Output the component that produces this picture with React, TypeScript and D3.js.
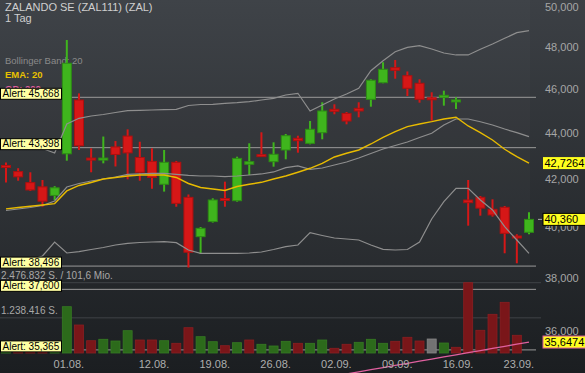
import { useEffect, useRef } from 'react';
import * as d3 from 'd3';

// trading days shown on the chart
const dates = [
  '25.07.', '26.07.', '29.07.', '30.07.', '31.07.',
  '01.08.', '02.08.', '05.08.', '06.08.', '07.08.', '08.08.', '09.08.',
  '12.08.', '13.08.', '14.08.', '15.08.', '16.08.',
  '19.08.', '20.08.', '21.08.', '22.08.', '23.08.',
  '26.08.', '27.08.', '28.08.', '29.08.', '30.08.',
  '02.09.', '03.09.', '04.09.', '05.09.', '06.09.',
  '09.09.', '10.09.', '11.09.', '12.09.', '13.09.',
  '16.09.', '17.09.', '18.09.', '19.09.', '20.09.',
  '23.09.', '24.09.'
];

const open = [42.580, 42.360, 41.890, 41.710, 41.350, 43.130, 45.543, 42.900, 42.830, 43.430, 43.910, 42.970, 42.800, 41.820, 42.760, 41.270, 39.660, 40.270, 41.180, 41.130, 42.675, 43.050, 42.787, 43.296, 43.812, 43.589, 44.061, 45.071, 44.930, 45.162, 45.575, 46.349, 47.057, 46.676, 46.321, 45.600, 45.668, 45.470, 41.159, 41.272, 40.774, 40.856, 39.646, 39.836];
const high = [42.750, 42.505, 42.330, 42.000, 41.740, 48.394, 45.850, 43.370, 43.890, 43.690, 44.210, 43.660, 43.370, 43.296, 42.820, 41.390, 40.050, 41.230, 41.930, 43.004, 43.591, 44.079, 43.634, 44.003, 43.927, 44.585, 45.438, 45.346, 44.994, 45.438, 46.508, 47.317, 47.427, 46.878, 46.508, 45.900, 45.975, 45.668, 42.001, 41.327, 41.188, 40.910, 39.756, 40.650];
const low = [41.890, 41.970, 41.540, 40.880, 41.160, 42.830, 43.296, 42.330, 42.715, 42.580, 42.030, 41.970, 41.630, 41.510, 40.880, 38.440, 38.970, 40.230, 40.880, 41.088, 42.215, 42.990, 42.571, 42.890, 43.178, 43.545, 43.767, 44.889, 44.436, 44.752, 45.236, 46.321, 46.536, 45.727, 45.420, 44.600, 45.283, 45.131, 40.103, 40.511, 40.472, 38.998, 38.605, 39.756];
const close = [42.510, 42.135, 41.580, 41.110, 41.670, 47.270, 43.480, 42.830, 42.900, 43.100, 43.170, 42.330, 42.110, 42.760, 41.020, 39.040, 39.995, 41.159, 41.130, 42.930, 42.787, 43.020, 43.109, 43.927, 43.705, 44.213, 45.040, 45.025, 44.585, 45.040, 46.461, 46.981, 46.933, 46.085, 45.575, 45.575, 45.714, 45.500, 41.048, 40.822, 40.541, 39.795, 39.606, 40.360];
const volume = [300000, 280000, 260000, 250000, 270000, 1631000, 986000, 433000, 483000, 423000, 786000, 458000, 458000, 433000, 342000, 891000, 574000, 398000, 257000, 363000, 458000, 307000, 247000, 412000, 342000, 342000, 458000, 166000, 307000, 377000, 483000, 342000, 412000, 553000, 423000, 493000, 352000, 201000, 2476832, 800000, 1363000, 1786000, 624000, 0];

const ema20 = [40.790, 40.850, 40.900, 40.950, 41.010, 41.540, 41.770, 41.895, 42.044, 42.108, 42.172, 42.215, 42.215, 42.215, 42.108, 41.853, 41.684, 41.620, 41.557, 41.726, 41.820, 41.903, 42.044, 42.172, 42.331, 42.502, 42.709, 42.992, 43.152, 43.296, 43.560, 43.856, 44.105, 44.330, 44.451, 44.555, 44.676, 44.753, 44.361, 44.061, 43.736, 43.327, 43.004, 42.7264];
const bbUpper = [43.428, 43.400, 43.380, 43.362, 43.165, 44.451, 44.707, 44.812, 44.880, 44.971, 45.053, 45.071, 45.085, 45.099, 45.117, 45.291, 45.337, 45.346, 45.392, 45.420, 45.466, 45.543, 45.622, 45.775, 45.854, 45.040, 45.314, 45.590, 45.821, 46.087, 46.914, 47.393, 47.825, 48.038, 48.116, 47.956, 47.763, 47.667, 47.667, 47.941, 48.199, 48.478, 48.754, 48.853];
const bbMiddle = [40.724, 40.786, 40.848, 40.931, 41.118, 41.705, 41.853, 41.959, 42.044, 42.130, 42.237, 42.258, 42.280, 42.287, 42.237, 42.194, 42.172, 42.172, 42.142, 42.172, 42.215, 42.258, 42.344, 42.528, 42.601, 42.459, 42.515, 42.645, 42.774, 42.947, 43.143, 43.340, 43.494, 43.648, 43.847, 44.034, 44.406, 44.676, 44.676, 44.553, 44.406, 44.226, 44.061, 43.883];
const bbLower = [38.656, 38.695, 38.734, 38.891, 39.446, 39.010, 39.061, 39.148, 39.227, 39.327, 39.394, 39.426, 39.446, 39.458, 39.418, 39.128, 38.998, 38.998, 38.998, 38.998, 39.010, 39.049, 39.148, 39.259, 39.327, 39.821, 39.708, 39.606, 39.566, 39.526, 39.327, 39.156, 39.128, 39.148, 39.446, 40.376, 41.088, 41.650, 41.650, 41.159, 40.745, 40.063, 39.526, 38.998];
// GD 200 only reaches the visible area at the far right
const gd200: (number | null)[] = [
  null, null, null, null, null, null, null, null, null, null, null, null, null, null,
  null, null, null, null, null, null, null, null, null, null, null, null, null,
  34.440, 34.514, 34.589, 34.663, 34.738, 34.813, 34.888, 34.963, 35.038, 35.114,
  35.189, 35.265, 35.341, 35.417, 35.494, 35.570, 35.6474
];

const priceTicks = [50, 48, 46, 44, 42, 40, 38, 36];
const dateTicks = ['01.08.', '12.08.', '19.08.', '26.08.', '02.09.', '09.09.', '16.09.', '23.09.'];
const alerts = [45.668, 43.398, 38.496, 37.600, 35.365];
const volumeMax = 2476832;

const de = d3.formatLocale({ decimal: ',', thousands: '.', grouping: [3], currency: ['', ''] });

export default function App() {
  const ref = useRef<SVGSVGElement>(null);

  useEffect(() => {
    if (!ref.current) return;
    const svg = d3.select(ref.current);
    svg.selectAll('*').remove();

    const W = 585, H = 373;
    const font = 'Arial, "Liberation Sans", sans-serif';

    const x = d3.scalePoint<string>().domain(dates).range([6, 529]);
    const y = d3.scaleLog().domain([35.365, 45.668]).range([349.9, 97.3]);
    const yv = d3.scaleLinear().domain([0, volumeMax]).range([353, 282.7]);

    // background
    const defs = svg.append('defs');
    const grad = defs.append('linearGradient').attr('id', 'bg').attr('x1', 0).attr('y1', 0).attr('x2', 0).attr('y2', 1);
    grad.append('stop').attr('offset', '0%').attr('stop-color', '#3c4045');
    grad.append('stop').attr('offset', '100%').attr('stop-color', '#1b1e21');
    svg.append('rect').attr('width', W).attr('height', H).attr('fill', 'url(#bg)');
    svg.append('rect').attr('width', 530).attr('height', 280).attr('fill', '#ffffff').attr('opacity', 0.02);

    // title + legend
    svg.append('text').attr('x', 5).attr('y', 10.5).attr('font-size', 11).attr('fill', '#cfcfcf')
      .attr('font-family', font).text('ZALANDO SE (ZAL111) (ZAL)');
    svg.append('text').attr('x', 5).attr('y', 22).attr('font-size', 11).attr('fill', '#cfcfcf')
      .attr('font-family', font).text('1 Tag');
    svg.append('text').attr('x', 5).attr('y', 63.5).attr('font-size', 9.5).attr('fill', '#8a8a8a')
      .attr('font-family', font).text('Bollinger Band: 20');
    svg.append('text').attr('x', 5).attr('y', 77.5).attr('font-size', 9.5).attr('font-weight', 'bold')
      .attr('fill', '#e8c100').attr('font-family', font).text('EMA: 20');
    svg.append('text').attr('x', 5).attr('y', 91.5).attr('font-size', 9.5).attr('font-weight', 'bold')
      .attr('fill', '#e0609f').attr('font-family', font).text('GD: 200');

    // volume grid
    [volumeMax, volumeMax / 2].forEach(v => {
      svg.append('line').attr('x1', 0).attr('x2', 541).attr('y1', yv(v)).attr('y2', yv(v))
        .attr('stroke', '#3f4347').attr('stroke-width', 1);
    });
    svg.append('text').attr('x', 1).attr('y', yv(volumeMax) - 3.5).attr('font-size', 10).attr('fill', '#a8a8a8')
      .attr('font-family', font).text(`${de.format(',d')(volumeMax)} S. / 101,6 Mio.`);
    svg.append('text').attr('x', 1).attr('y', yv(volumeMax / 2) - 3.5).attr('font-size', 10).attr('fill', '#a8a8a8')
      .attr('font-family', font).text(`${de.format(',d')(volumeMax / 2)} S.`);

    // alert lines
    alerts.forEach(a => {
      svg.append('line').attr('x1', 0).attr('x2', 536).attr('y1', y(a)).attr('y2', y(a))
        .attr('stroke', '#9a9a9a').attr('stroke-width', 1);
    });

    // volume bars
    const bw = 9;
    svg.selectAll('.vol')
      .data(dates)
      .enter()
      .append('rect')
      .attr('x', d => (x(d) as number) - bw / 2)
      .attr('y', (d, i) => yv(volume[i]))
      .attr('width', bw)
      .attr('height', (d, i) => 353 - yv(volume[i]))
      .attr('fill', (d, i) => i > 0 && close[i] === close[i - 1] ? '#727272' : (i === 0 || close[i] > close[i - 1]) ? '#2c6a1b' : '#7a1619')
      .attr('stroke', (d, i) => i > 0 && close[i] === close[i - 1] ? '#888888' : (i === 0 || close[i] > close[i - 1]) ? '#367b23' : '#8b1e21')
      .attr('stroke-width', 0.8);

    // candles
    const up = (i: number) => close[i] >= open[i];
    const g = svg.append('g');
    g.selectAll('.wick')
      .data(dates)
      .enter()
      .append('line')
      .attr('x1', d => x(d) as number)
      .attr('x2', d => x(d) as number)
      .attr('y1', (d, i) => y(high[i]))
      .attr('y2', (d, i) => y(low[i]))
      .attr('stroke', (d, i) => up(i) ? '#3fb51d' : '#d61717')
      .attr('stroke-width', 2);
    g.selectAll('.body')
      .data(dates)
      .enter()
      .append('rect')
      .attr('x', d => (x(d) as number) - 4.5)
      .attr('y', (d, i) => Math.min(y(open[i]), y(close[i])) - (Math.abs(y(open[i]) - y(close[i])) < 2 ? 1 : 0))
      .attr('width', 9)
      .attr('height', (d, i) => Math.max(2, Math.abs(y(open[i]) - y(close[i]))))
      .attr('fill', (d, i) => up(i) ? '#3fb51d' : '#d61717')
      .attr('stroke', (d, i) => up(i) ? '#2d8c14' : '#ad1010')
      .attr('stroke-width', 1);

    // indicator lines
    const line = d3.line<number | null>()
      .defined(v => v != null)
      .x((v, i) => x(dates[i]) as number)
      .y(v => y(v as number));

    [bbUpper, bbMiddle, bbLower].forEach(s => {
      svg.append('path').datum(s).attr('fill', 'none').attr('stroke', '#8e8e8e')
        .attr('stroke-width', 1.2).attr('d', line);
    });
    svg.append('path').datum(ema20).attr('fill', 'none').attr('stroke', '#e8bb00')
      .attr('stroke-width', 1.4).attr('d', line);
    svg.append('path').datum(gd200).attr('fill', 'none').attr('stroke', '#e0609f')
      .attr('stroke-width', 1.3).attr('d', line);

    // alert boxes
    alerts.forEach(a => {
      svg.append('rect').attr('x', 0.5).attr('y', y(a) - 9).attr('width', 61).attr('height', 11)
        .attr('fill', '#ffffa3').attr('stroke', '#000').attr('stroke-width', 1);
      svg.append('text').attr('x', 2.5).attr('y', y(a) - 0.2).attr('font-size', 10).attr('fill', '#000')
        .attr('font-family', font).text(`Alert: ${de.format('.3f')(a)}`);
    });

    // right axis
    priceTicks.forEach(t => {
      svg.append('text').attr('x', 545).attr('y', y(t) + 3).attr('font-size', 11).attr('fill', '#a6a6a6')
        .attr('font-family', font).text(de.format(',.3f')(t));
    });

    // date labels
    dateTicks.forEach(d => {
      svg.append('text').attr('x', (x(d) as number) + 2).attr('y', 367.5).attr('text-anchor', 'middle')
        .attr('font-size', 11).attr('fill', '#aeaeae').attr('font-family', font).text(d);
    });

    // value tags on the right
    const last = dates.length - 1;
    const tags = [
      { v: ema20[last], txt: de.format('.4f')(ema20[last]), stroke: 'none' },
      { v: close[last], txt: de.format('.3f')(close[last]), stroke: '#000' },
      { v: gd200[last] as number, txt: de.format('.4f')(gd200[last] as number), stroke: '#e0609f' },
    ];
    svg.append('line').attr('x1', 538).attr('x2', 542).attr('y1', y(close[last])).attr('y2', y(close[last]))
      .attr('stroke', '#aaa').attr('stroke-width', 1);
    tags.forEach(t => {
      svg.append('rect').attr('x', 543).attr('y', y(t.v) - 6).attr('width', 43).attr('height', 12)
        .attr('fill', '#ffff1e').attr('stroke', t.stroke).attr('stroke-width', 1);
      svg.append('text').attr('x', 544.5).attr('y', y(t.v) + 4).attr('font-size', 11).attr('fill', '#000')
        .attr('font-family', font).text(t.txt);
    });
  }, []);

  return (
    <svg ref={ref} width={585} height={373}
      style={{ position: 'absolute', left: 0, top: 0, display: 'block' }} />
  );
}
